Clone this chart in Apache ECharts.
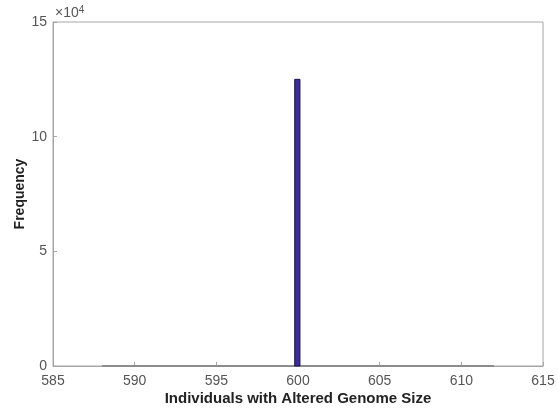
<!DOCTYPE html>
<html lang="en">
<head>
    <meta charset="UTF-8">
    <title>Genome size histogram</title>
    <script src="https://cdn.jsdelivr.net/npm/echarts@6/dist/echarts.min.js"></script>
    <style>
        html, body { margin: 0; padding: 0; background: #fff; }
        #histchart { width: 558px; height: 412px; }
    </style>
</head>
<body>
    <div id="histchart"></div>
</body>
<script type="text/javascript">
    // histogram bins (left edge, right edge, count in units of 10^4)
    var binLeft = [599.8];
    var binRight = [600.12];
    var binCount = [12.5];
    // range covered by the empty bins along the baseline
    var emptyRange = [588, 612];
    var xTicks = [585, 590, 595, 600, 605, 610, 615];
    var yTicks = [0, 5, 10, 15];

    var histchart = echarts.init(document.getElementById('histchart'));

    var binData = [];
    for (var i = 0; i < binCount.length; i++) {
        binData.push([binLeft[i], binRight[i], binCount[i]]);
    }

    var axisGrey = '#a6a6a6';
    var labelGrey = '#555';

    var option = {
        animation: false,
        grid: {
            left: 53,
            right: 15,
            top: 22,
            bottom: 46,
            show: true,
            borderColor: axisGrey,
            borderWidth: 1
        },
        xAxis: {
            type: 'value',
            min: xTicks[0],
            max: xTicks[xTicks.length - 1],
            interval: 5,
            name: 'Individuals with Altered Genome Size',
            nameLocation: 'middle',
            nameGap: 25,
            nameMoveOverlap: false,
            nameTextStyle: { fontFamily: 'Liberation Sans', fontWeight: 'bold', fontSize: 15, color: '#222' },
            axisLine: { lineStyle: { color: axisGrey } },
            axisTick: { inside: true, length: 4, lineStyle: { color: axisGrey } },
            axisLabel: { fontFamily: 'Liberation Sans', fontSize: 14, color: labelGrey, margin: 8 },
            splitLine: { show: false }
        },
        yAxis: {
            type: 'value',
            min: yTicks[0],
            max: yTicks[yTicks.length - 1],
            interval: 5,
            name: 'Frequency',
            nameLocation: 'middle',
            nameGap: 26,
            nameMoveOverlap: false,
            nameTextStyle: { fontFamily: 'Liberation Sans', fontWeight: 'bold', fontSize: 14, color: '#222' },
            axisLine: { lineStyle: { color: axisGrey } },
            axisTick: { inside: true, length: 4, lineStyle: { color: axisGrey } },
            axisLabel: { fontFamily: 'Liberation Sans', fontSize: 14, color: labelGrey, margin: 6 },
            splitLine: { show: false }
        },
        graphic: [{
            type: 'text',
            left: 55,
            top: 5,
            style: {
                rich: {
                    a: { fontFamily: 'Liberation Sans', fontSize: 14, fill: labelGrey },
                    b: { fontFamily: 'Liberation Sans', fontSize: 10, fill: labelGrey, verticalAlign: 'top', padding: [0, 0, 6, 0] }
                },
                text: '{a|\u00d710}{b|4}'
            }
        }],
        series: [
            {
                // the empty bins show as a darker stroke along the baseline
                type: 'line',
                data: [[emptyRange[0], 0], [emptyRange[1], 0]],
                symbol: 'none',
                lineStyle: { color: '#777', width: 1.5 },
                z: 3
            },
            {
                type: 'custom',
                data: binData,
                encode: { x: [0, 1], y: 2 },
                renderItem: function (params, api) {
                    var p0 = api.coord([api.value(0), 0]);
                    var p1 = api.coord([api.value(1), api.value(2)]);
                    return {
                        type: 'rect',
                        shape: { x: p0[0], y: p1[1], width: p1[0] - p0[0], height: p0[1] - p1[1] },
                        style: { fill: '#3b2f96', stroke: '#1a1450', lineWidth: 1 }
                    };
                },
                z: 4
            }
        ]
    };
    histchart.setOption(option);
    window.addEventListener('resize', function () {
        histchart.resize();
    });
</script>
</html>
